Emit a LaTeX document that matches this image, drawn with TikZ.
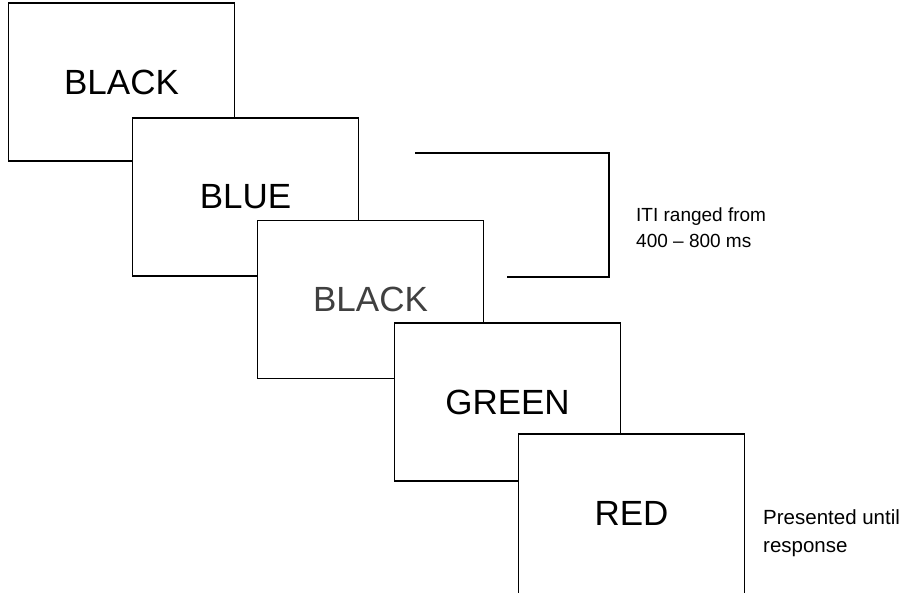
\documentclass[tikz,border=0pt]{standalone}
\usepackage{fontspec}
\setmainfont{Liberation Sans}
\begin{document}
\begin{tikzpicture}[x=1pt,y=-1pt,
  screen/.style={draw=black, line width=1.3pt, fill=white, minimum width=226pt, minimum height=158pt, inner sep=0pt, font=\fontsize{35}{42}\selectfont},
  note/.style={anchor=west, align=left, inner sep=0pt, font=\fontsize{19}{26}\selectfont},
  frame/.style={draw=black, line width=1.3pt}]
\useasboundingbox (0,0) rectangle (909,593);
\node[screen] (s1) at (121.5,82) {\raisebox{-2pt}{BLACK}};
\node[screen] (s2) at (245.5,197) {BLUE};
\node[screen, text=black!75] (s3) at (370.5,299.5) {BLACK};
\node[screen] (s4) at (507.5,402) {GREEN};
\node[screen, minimum height=164pt] (s5) at (631.5,516) {\raisebox{6pt}{RED}};
\coordinate (b1) at (415,153);
\coordinate (b2) at (609,153);
\coordinate (b3) at (609,277);
\coordinate (b4) at (507,277);
\draw[frame] (b1) -- (b2) -- (b3) -- (b4);
\node[note] (iti) at (636,228) {ITI ranged from\\400 -- 800 ms};
\node[note, font=\fontsize{20.5}{28}\selectfont] (pres) at (763,533) {Presented until\\response};
\end{tikzpicture}
\end{document}
